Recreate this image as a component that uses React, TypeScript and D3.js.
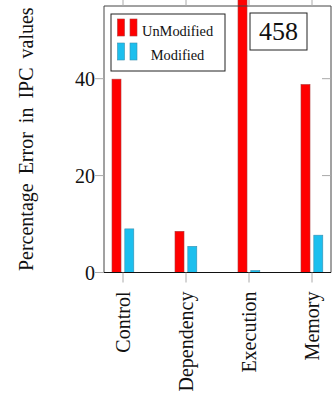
import React from "react";
import { scaleLinear, scalePoint } from "d3";

const categories = ["Control", "Dependency", "Execution", "Memory"];
const unModified = [39.9, 8.5, 62, 38.8];
const modified = [9.0, 5.4, 0.4, 7.7];
const yTicks = [0, 20, 40];
const legendLabels = ["UnModified", "Modified"];
const boxLabel = "458";

const W = 336;
const H = 401;
const font = "'Liberation Serif', 'DejaVu Serif', serif";

const frame = { left: 104, right: 331, top: 6, bottom: 272.5 };

const App = () => {
  const y = scaleLinear().domain([0, 55]).range([frame.bottom, frame.top]);
  const x = scalePoint<string>().domain(categories).range([123, 312]);
  const barW = 9;

  const colors = {
    red: { fill: "#ff0000", stroke: "#b03a3a" },
    blue: { fill: "#1cbfee", stroke: "#3a8fb0" },
  };

  return (
    <svg
      width={W}
      height={H}
      style={{ position: "absolute", left: 0, top: 0, overflow: "hidden" }}
      fontFamily={font}
    >
      <rect width={W} height={H} fill="#fff" />

      {/* y axis label */}
      <text
        transform={`translate(33, ${(frame.top + frame.bottom) / 2}) rotate(-90)`}
        textAnchor="middle"
        fontSize={20}
        wordSpacing={4}
        fill="#111"
      >
        Percentage Error in IPC values
      </text>

      {/* bars */}
      {categories.map((c, i) => (
        <g key={c}>
          <rect
            x={(x(c) as number) - 11}
            y={y(unModified[i])}
            width={barW}
            height={frame.bottom - y(unModified[i])}
            fill={colors.red.fill}
            stroke={colors.red.stroke}
            strokeWidth={0.6}
          />
          <rect
            x={(x(c) as number) + 1.8}
            y={y(modified[i])}
            width={barW}
            height={frame.bottom - y(modified[i])}
            fill={colors.blue.fill}
            stroke={colors.blue.stroke}
            strokeWidth={0.6}
          />
        </g>
      ))}

      {/* frame */}
      <line x1={frame.left} x2={frame.right} y1={frame.top} y2={frame.top} stroke="#444" />
      <line x1={frame.left} x2={frame.left} y1={frame.top} y2={frame.bottom} stroke="#444" />
      <line x1={frame.right} x2={frame.right} y1={frame.top} y2={frame.bottom} stroke="#444" />
      <line x1={frame.left} x2={frame.right} y1={frame.bottom} y2={frame.bottom} stroke="#111" strokeWidth={1.2} />

      {/* x ticks */}
      {categories.map((c) => (
        <g key={c}>
          <line x1={x(c)} x2={x(c)} y1={frame.bottom} y2={frame.bottom + 10} stroke="#aaa" />
          <line x1={x(c)} x2={x(c)} y1={frame.top} y2={frame.top - 8} stroke="#aaa" />
          <text
            transform={`translate(${(x(c) as number) + 7}, ${frame.bottom + 19}) rotate(-90)`}
            textAnchor="end"
            fontSize={20}
            fill="#111"
          >
            {c}
          </text>
        </g>
      ))}

      {/* y ticks */}
      {yTicks.map((t) => (
        <g key={t}>
          <line x1={frame.left - 9} x2={frame.left} y1={y(t)} y2={y(t)} stroke="#aaa" />
          {t > 0 && (
            <line x1={frame.right - 9} x2={frame.right} y1={y(t)} y2={y(t)} stroke="#aaa" />
          )}
          <text x={95} y={y(t) + 7} textAnchor="end" fontSize={20} fill="#111">
            {t}
          </text>
        </g>
      ))}

      {/* legend */}
      <rect x={111} y={14} width={114} height={57} fill="#fff" stroke="#222" />
      {legendLabels.map((l, i) => {
        const c = i === 0 ? colors.red : colors.blue;
        const top = 19 + i * 24;
        return (
          <g key={l}>
            <rect x={117.5} y={top} width={7} height={17} fill={c.fill} stroke={c.stroke} strokeWidth={0.6} />
            <rect x={130} y={top} width={7} height={17} fill={c.fill} stroke={c.stroke} strokeWidth={0.6} />
            <text
              x={i === 0 ? 142 : 177.5}
              y={36 + i * 24}
              textAnchor={i === 0 ? "start" : "middle"}
              fontSize={14.4}
              fill="#111"
            >
              {l}
            </text>
          </g>
        );
      })}

      {/* id box */}
      <rect x={250} y={13} width={57} height={37} fill="#fff" stroke="#222" />
      <text x={278.5} y={40} textAnchor="middle" fontSize={26} fill="#111">
        {boxLabel}
      </text>
    </svg>
  );
};

export default App;
